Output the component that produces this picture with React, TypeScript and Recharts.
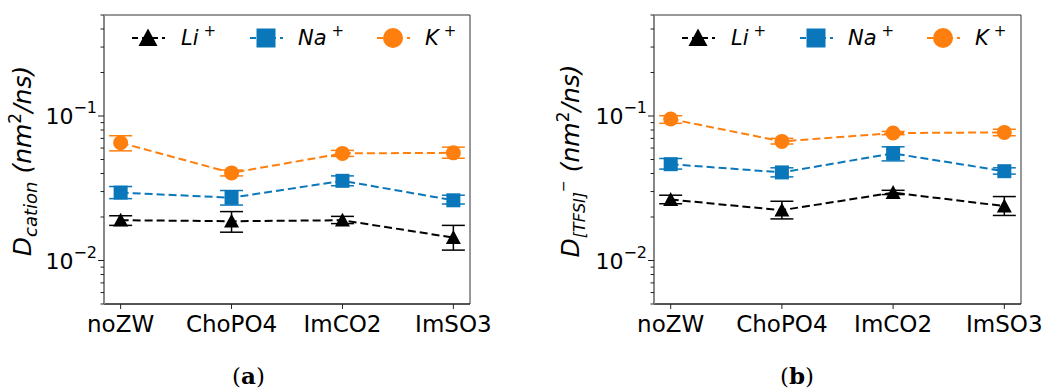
import React from "react";
import { LineChart, Line, XAxis, YAxis, ErrorBar, ReferenceArea } from "recharts";

const categories = ["noZW", "ChoPO4", "ImCO2", "ImSO3"];

// panel (a): cation diffusion, nm^2/ns
const cationLi = [0.019, 0.0187, 0.019, 0.0144];
const cationLiLow = [0.0175, 0.0157, 0.018, 0.0118];
const cationLiHigh = [0.0204, 0.0218, 0.0202, 0.0175];
const cationNa = [0.0295, 0.0272, 0.0356, 0.0261];
const cationNaLow = [0.0268, 0.0242, 0.0329, 0.0246];
const cationNaHigh = [0.0325, 0.0305, 0.0385, 0.0283];
const cationK = [0.0653, 0.0404, 0.0551, 0.0556];
const cationKLow = [0.0574, 0.0385, 0.0525, 0.051];
const cationKHigh = [0.073, 0.0423, 0.0578, 0.0609];

// panel (b): [TFSI]- diffusion, nm^2/ns
const tfsiLi = [0.0264, 0.0223, 0.0295, 0.0238];
const tfsiLiLow = [0.0247, 0.0194, 0.0286, 0.0205];
const tfsiLiHigh = [0.0283, 0.0257, 0.0306, 0.0277];
const tfsiNa = [0.0464, 0.0407, 0.0551, 0.0415];
const tfsiNaLow = [0.0429, 0.0379, 0.0489, 0.0396];
const tfsiNaHigh = [0.0508, 0.0438, 0.0612, 0.0438];
const tfsiK = [0.0953, 0.0667, 0.0762, 0.077];
const tfsiKLow = [0.089, 0.064, 0.0742, 0.073];
const tfsiKHigh = [0.1005, 0.07, 0.0782, 0.081];

const yTicks = [0.005, 0.006, 0.007, 0.008, 0.009, 0.01, 0.02, 0.03, 0.04, 0.05, 0.06, 0.07, 0.08, 0.09, 0.1, 0.2, 0.3, 0.4, 0.5];
const majorTicks: Record<string, string> = { "0.01": "\u22122", "0.1": "\u22121" };

const BLACK = "#000000";
const BLUE = "#0a77ba";
const ORANGE = "#ff7f0e";
const FONT = "DejaVu Sans";

function buildRows(li: number[], liLo: number[], liHi: number[], na: number[], naLo: number[], naHi: number[], k: number[], kLo: number[], kHi: number[]) {
    return categories.map((c, i) => ({
        x: i,
        li: li[i],
        liErr: [li[i] - liLo[i], liHi[i] - li[i]],
        na: na[i],
        naErr: [na[i] - naLo[i], naHi[i] - na[i]],
        k: k[i],
        kErr: [k[i] - kLo[i], kHi[i] - k[i]],
    }));
}

const Triangle = ({ cx, cy, s = 7 }: any) => (
    <polygon points={`${cx},${cy - s} ${cx - s},${cy + s * 0.85} ${cx + s},${cy + s * 0.85}`} fill={BLACK} />
);
const Square = ({ cx, cy, s = 7, color = BLUE }: any) => (
    <rect x={cx - s} y={cy - s} width={s * 2} height={s * 2} fill={color} />
);
const Circle = ({ cx, cy, s = 7.5 }: any) => <circle cx={cx} cy={cy} r={s} fill={ORANGE} />;

const YTick = ({ x, y, payload }: any) => {
    const key = String(payload.value);
    const sup = majorTicks[key];
    return (
        <g>
            <line x1={x} x2={x - (sup ? 6 : 3.5)} y1={y} y2={y} stroke="#222" strokeWidth={1} />
            {sup && (
                <text x={x - 7} y={y + 8} textAnchor="end" fontFamily={FONT} fontSize={22} fill="#000">
                    10
                    <tspan fontSize={16} dy={-11}>{sup}</tspan>
                </text>
            )}
        </g>
    );
};

const XTick = ({ x, y, payload }: any) => (
    <g>
        <line x1={x} x2={x} y1={y} y2={y + 5} stroke="#222" strokeWidth={1} />
        <text x={x} y={y + 28} textAnchor="middle" fontFamily={FONT} fontSize={23} fill="#000">
            {categories[payload.value]}
        </text>
    </g>
);

const legendItems = [
    { label: "Li", dx: 44, tx: 77, marker: "tri", color: BLACK },
    { label: "Na", dx: 162, tx: 194, marker: "sq", color: BLUE },
    { label: "K", dx: 289, tx: 321, marker: "ci", color: ORANGE },
];

const LegendBox = () => (
    <svg width={366} height={40} style={{ display: "block" }}>
        {legendItems.map((it) => (
            <g key={it.label}>
                <line x1={it.dx - 17} x2={it.dx + 17} y1={20} y2={20} stroke={it.color} strokeWidth={2} strokeDasharray="6 4" strokeDashoffset={-1} />
                {it.marker === "tri" && <Triangle cx={it.dx} cy={20} s={9.5} />}
                {it.marker === "sq" && <Square cx={it.dx} cy={20} s={9.5} />}
                {it.marker === "ci" && <Circle cx={it.dx} cy={20} s={10} />}
                <text x={it.tx} y={27} fontFamily={FONT} fontStyle="italic" fontSize={21} fill="#000">
                    {it.label}
                    <tspan fontSize={15} dx={5} dy={-9} fontStyle="normal">+</tspan>
                </text>
            </g>
        ))}
    </svg>
);

function Panel({ rows, yAxisWidth, rightMargin, width, labelX, label }: any) {
    return (
        <LineChart width={width} height={340} data={rows} margin={{ top: 15, right: rightMargin, bottom: 0, left: 0 }}>
            <XAxis
                dataKey="x"
                type="number"
                domain={[-0.15, 3.15]}
                ticks={[0, 1, 2, 3]}
                interval={0}
                height={36}
                tickSize={0}
                tickMargin={0}
                tick={<XTick />}
                axisLine={{ stroke: "#111", strokeWidth: 1 }}
                tickLine={false}
                allowDataOverflow
            />
            <YAxis
                scale="log"
                type="number"
                domain={[0.005, 0.5]}
                ticks={yTicks}
                interval={0}
                width={yAxisWidth}
                tickSize={0}
                tickMargin={0}
                tick={<YTick />}
                tickLine={false}
                axisLine={{ stroke: "#888", strokeWidth: 2 }}
                allowDataOverflow
            />
            <ReferenceArea x1={-0.15} x2={3.15} y1={0.005} y2={0.5} fill="none" stroke="#333" strokeWidth={1} />
            <Line dataKey="li" stroke={BLACK} strokeWidth={2} strokeDasharray="8 4" isAnimationActive={false} activeDot={false}
                dot={(p: any) => <Triangle key={p.index} cx={p.cx} cy={p.cy} s={7.5} />}>
                <ErrorBar dataKey="liErr" direction="y" width={11.5} stroke={BLACK} strokeWidth={1.5} />
            </Line>
            <Line dataKey="na" stroke={BLUE} strokeWidth={2} strokeDasharray="8 4" isAnimationActive={false} activeDot={false}
                dot={(p: any) => <Square key={p.index} cx={p.cx} cy={p.cy} s={7} />}>
                <ErrorBar dataKey="naErr" direction="y" width={11.5} stroke={BLUE} strokeWidth={1.5} />
            </Line>
            <Line dataKey="k" stroke={ORANGE} strokeWidth={2} strokeDasharray="8 4" isAnimationActive={false} activeDot={false}
                dot={(p: any) => <Circle key={p.index} cx={p.cx} cy={p.cy} s={7.5} />}>
                <ErrorBar dataKey="kErr" direction="y" width={11.5} stroke={ORANGE} strokeWidth={1.5} />
            </Line>
            <text transform={`translate(${labelX},161) rotate(-90)`} textAnchor="middle" fontFamily={FONT} fontStyle="italic" fontSize={25} fill="#000">
                {label}
            </text>
        </LineChart>
    );
}

const cationLabel = (
    <>
        D<tspan fontSize={18} dy={6}>cation</tspan>
        <tspan dy={-6}>{"  (nm"}</tspan>
        <tspan fontSize={17} dy={-10} fontStyle="normal">2</tspan>
        <tspan dy={10}>/ns)</tspan>
    </>
);

const tfsiLabel = (
    <>
        D<tspan fontSize={16} dy={6}>[TFSI]</tspan>
        <tspan fontSize={14} dy={-17} fontStyle="normal">{"\u2212"}</tspan>
        <tspan dy={11}>{"   (nm"}</tspan>
        <tspan fontSize={17} dy={-10} fontStyle="normal">2</tspan>
        <tspan dy={10}>/ns)</tspan>
    </>
);

export default function App() {
    const rowsA = buildRows(cationLi, cationLiLow, cationLiHigh, cationNa, cationNaLow, cationNaHigh, cationK, cationKLow, cationKHigh);
    const rowsB = buildRows(tfsiLi, tfsiLiLow, tfsiLiHigh, tfsiNa, tfsiNaLow, tfsiNaHigh, tfsiK, tfsiKLow, tfsiKHigh);

    return (
        <div style={{ position: "absolute", left: 0, top: 0, width: 1047, height: 390, background: "#fff", overflow: "hidden" }}>
            <div style={{ position: "absolute", left: 0, top: 0 }}>
                <Panel rows={rowsA} yAxisWidth={104} rightMargin={30} width={500} labelX={31} label={cationLabel} />
            </div>
            <div style={{ position: "absolute", left: 104, top: 18 }}>
                <LegendBox />
            </div>
            <div style={{ position: "absolute", left: 520, top: 0 }}>
                <Panel rows={rowsB} yAxisWidth={134} rightMargin={26} width={527} labelX={59} label={tfsiLabel} />
            </div>
            <div style={{ position: "absolute", left: 654, top: 18 }}>
                <LegendBox />
            </div>
            <div style={{ position: "absolute", left: 232, top: 362, fontFamily: "DejaVu Serif", fontSize: 23 }}>
                (<b>a</b>)
            </div>
            <div style={{ position: "absolute", left: 780, top: 362, fontFamily: "DejaVu Serif", fontSize: 23 }}>
                (<b>b</b>)
            </div>
        </div>
    );
}
